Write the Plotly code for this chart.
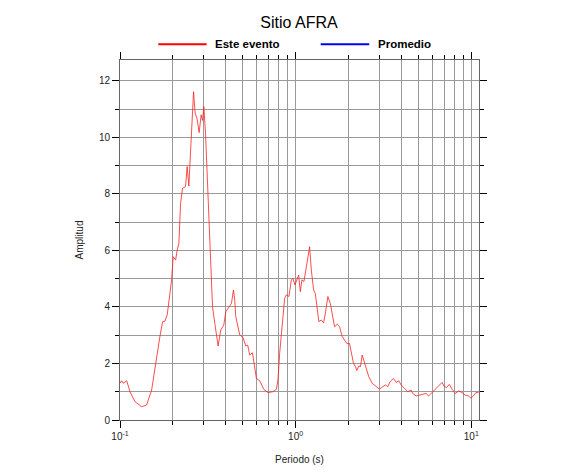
import plotly.graph_objects as go

# Periods (s) and spectral amplitude
periodo = [0.1000, 0.1022, 0.1044, 0.1092, 0.1140, 0.1217, 0.1328, 0.1418, 0.1514, 0.1581,
           0.1616, 0.1687, 0.1748, 0.1802, 0.1857, 0.1906, 0.1967, 0.2008, 0.2073, 0.2117,
           0.2164, 0.2213, 0.2271, 0.2362, 0.2412, 0.2466, 0.2522, 0.2575, 0.2623, 0.2678,
           0.2749, 0.2822, 0.2897, 0.2951, 0.3001, 0.3069, 0.3150, 0.3217, 0.3289, 0.3363,
           0.3466, 0.3619, 0.3749, 0.3899, 0.4003, 0.4178, 0.4312, 0.4426, 0.4502, 0.4561,
           0.4806, 0.5019, 0.5199, 0.5337, 0.5478, 0.5675, 0.5773, 0.5980, 0.6245, 0.6579,
           0.6961, 0.7430, 0.7768, 0.7932, 0.8111, 0.8402, 0.8660, 0.8856, 0.9162, 0.9454,
           0.9654, 0.9909, 1.017, 1.040, 1.063, 1.086, 1.115, 1.150, 1.175, 1.201,
           1.228, 1.266, 1.294, 1.321, 1.356, 1.400, 1.443, 1.481, 1.526, 1.575,
           1.616, 1.666, 1.726, 1.778, 1.842, 1.898, 1.956, 2.027, 2.073, 2.136,
           2.192, 2.230, 2.289, 2.340, 2.393, 2.444, 2.522, 2.609, 2.728, 2.874,
           3.001, 3.133, 3.246, 3.345, 3.452, 3.605, 3.735, 3.864, 3.988, 4.163,
           4.347, 4.544, 4.640, 4.852, 5.111, 5.337, 5.529, 5.720, 5.980, 6.245,
           6.521, 6.817, 7.025, 7.240, 7.499, 7.768, 8.111, 8.469, 8.856, 9.246,
           9.654, 9.961, 10.27, 10.63, 11.00]

este_evento = [1.30, 1.39, 1.30, 1.39, 1.00, 0.65, 0.47, 0.53, 1.06, 1.89,
               2.12, 2.95, 3.48, 3.50, 3.72, 4.25, 4.96, 5.78, 5.66, 6.02,
               6.25, 7.67, 8.20, 8.26, 8.97, 8.28, 9.56, 10.86, 11.62, 10.86,
               10.65, 10.17, 10.80, 10.60, 11.09, 10.15, 8.26, 6.61, 5.19, 4.01,
               3.42, 2.62, 3.19, 3.36, 3.83, 4.01, 4.13, 4.60, 4.25, 3.66,
               3.01, 2.92, 2.62, 2.65, 2.30, 2.38, 2.06, 1.47, 1.39, 1.09,
               0.97, 1.00, 1.09, 1.42, 2.36, 3.30, 4.31, 4.43, 4.37, 4.96,
               5.01, 4.78, 4.96, 5.13, 4.54, 4.96, 4.90, 5.49, 5.84, 6.13,
               5.31, 4.60, 4.48, 3.95, 3.48, 3.54, 3.44, 3.83, 4.37, 4.13,
               3.72, 3.30, 3.39, 3.30, 2.95, 2.83, 2.71, 2.71, 2.36, 2.00,
               1.89, 1.75, 1.91, 1.89, 2.30, 2.12, 1.77, 1.53, 1.30, 1.18,
               1.09, 1.18, 1.24, 1.18, 1.36, 1.47, 1.33, 1.39, 1.24, 1.12,
               1.00, 1.06, 0.94, 0.85, 0.88, 0.91, 0.94, 0.85, 0.97, 1.06,
               1.18, 1.33, 1.18, 1.15, 1.26, 1.09, 0.94, 1.03, 0.97, 0.88,
               0.85, 0.77, 0.85, 0.97, 0.97]

promedio_periodo = []
promedio = []

x_major = [0.1, 1, 10]
x_major_text = ["10<sup>-1</sup>", "10<sup>0</sup>", "10<sup>1</sup>"]
x_minor = [0.2, 0.3, 0.4, 0.5, 0.6, 0.7, 0.8, 0.9, 2, 3, 4, 5, 6, 7, 8, 9]

FONT = "Liberation Sans, Arial, sans-serif"

fig = go.Figure()
fig.add_trace(go.Scatter(x=periodo, y=este_evento, mode="lines", name="Este evento",
                         line=dict(color="#ff2020", width=0.8), showlegend=False))
fig.add_trace(go.Scatter(x=promedio_periodo, y=promedio, mode="lines", name="Promedio",
                         line=dict(color="#0000ff", width=0.8), showlegend=False))

fig.update_layout(
    width=570, height=459,
    margin=dict(l=112, r=99, t=52, b=47, autoexpand=False),
    paper_bgcolor="white", plot_bgcolor="white",
    font=dict(family=FONT, size=10, color="#222222"),
    title=dict(text="Sitio AFRA", x=0.5105, xanchor="center", y=0.9695, yanchor="middle",
               font=dict(family=FONT, size=16, color="#000000")),
    xaxis=dict(
        type="log", range=[-1, 1.044], automargin=False,
        tickmode="array", tickvals=x_major, ticktext=x_major_text,
        ticks="outside", ticklen=7, tickwidth=1, tickcolor="#000000",
        showgrid=True, gridcolor="#9a9a9a", gridwidth=1,
        showline=True, linecolor="#666666", linewidth=1, mirror="allticks",
        zeroline=False,
        minor=dict(tickmode="array", tickvals=x_minor, ticks="outside", ticklen=4,
                   tickcolor="#000000", showgrid=True, gridcolor="#9a9a9a", gridwidth=1),
        title=dict(text="Periodo (s)", font=dict(family=FONT, size=10, color="#222222"), standoff=14),
        tickfont=dict(family=FONT, size=10, color="#222222"),
    ),
    yaxis=dict(
        range=[0, 12.74], tickmode="linear", tick0=0, dtick=2, automargin=False,
        ticks="outside", ticklen=7, tickwidth=1, tickcolor="#000000",
        showgrid=True, gridcolor="#9a9a9a", gridwidth=1,
        showline=True, linecolor="#666666", linewidth=1, mirror="allticks",
        zeroline=False,
        minor=dict(dtick=1, tick0=0, ticks="outside", ticklen=4, tickcolor="#000000",
                   showgrid=True, gridcolor="#9a9a9a", gridwidth=1),
        title=dict(text="Amplitud", font=dict(family=FONT, size=10, color="#222222"), standoff=13),
        tickfont=dict(family=FONT, size=10, color="#222222"),
    ),
)

# Legend drawn at the top of the plot
fig.add_shape(type="line", xref="paper", yref="paper", x0=0.1067, x1=0.2412, y0=1.0436, y1=1.0436,
              line=dict(color="#ff0000", width=2))
fig.add_annotation(xref="paper", yref="paper", x=0.2599, y=1.0436, xanchor="left", yanchor="middle",
                   text="<b>Este evento</b>", showarrow=False,
                   font=dict(family=FONT, size=11.5, color="#000000"))
fig.add_shape(type="line", xref="paper", yref="paper", x0=0.559, x1=0.6942, y0=1.0436, y1=1.0436,
              line=dict(color="#0000ff", width=2))
fig.add_annotation(xref="paper", yref="paper", x=0.7131, y=1.0436, xanchor="left", yanchor="middle",
                   text="<b>Promedio</b>", showarrow=False,
                   font=dict(family=FONT, size=11.5, color="#000000"))

fig.write_html("out.html")
